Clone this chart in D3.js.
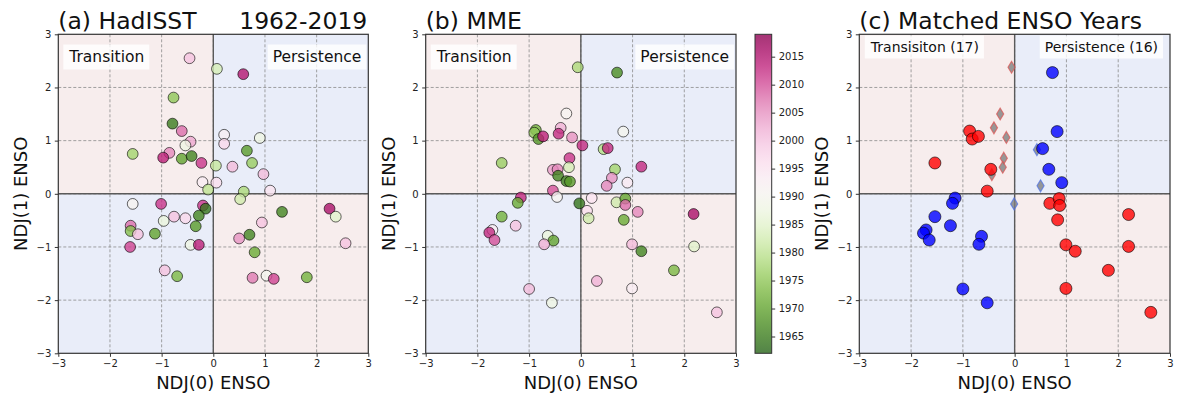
<!DOCTYPE html>
<html>
<head>
<meta charset="utf-8">
<script src="https://cdn.jsdelivr.net/npm/d3@7"></script>
<style>
  body { margin: 0; background: #fff; }
  svg { font-family: "DejaVu Sans", sans-serif; }
</style>
</head>
<body>
<div id="chart"></div>
<script>
// (a) HadISST, one point per year
const hadX = [-0.46, 0.07, 0.58, -0.77, -0.79, -0.61, -0.44, -0.54, -0.85, -0.97, -0.61, -0.42, -1.56, -0.23, 0.05, -0.21, -0.10, 0.06, 0.21, 0.21, 0.90, 0.65, 0.75, 0.37, 0.97, 1.10, 0.59, 0.52, 1.33, 2.25, 2.37, 0.94, 0.50, 0.70, 0.80, 2.56, 0.76, 1.03, 1.17, 1.81, -1.56, -1.01, -0.96, -0.76, -0.54, -0.20, -0.15, -0.28, -0.34, -1.13, -1.60, -1.60, -1.46, -1.61, -0.44, -0.28, -0.94, -0.70];
const hadY = [2.55, 2.35, 2.25, 1.81, 1.32, 1.18, 0.98, 0.91, 0.77, 0.68, 0.66, 0.71, 0.75, 0.58, 0.53, 0.22, 0.08, 0.21, 1.11, 0.94, 1.05, 0.81, 0.58, 0.51, 0.37, 0.06, 0.04, -0.10, -0.34, -0.28, -0.43, -0.54, -0.84, -0.77, -1.10, -0.93, -1.58, -1.54, -1.60, -1.57, -0.19, -0.19, -0.51, -0.43, -0.46, -0.22, -0.28, -0.41, -0.61, -0.75, -0.60, -0.70, -0.76, -1.00, -0.96, -0.96, -1.44, -1.55];
const hadYear = [2000, 1983, 2015, 1975, 1965, 2008, 2003, 1988, 2006, 2014, 1970, 1966, 1977, 2012, 1981, 1993, 1980, 1996, 1992, 1997, 1988, 1969, 1976, 2001, 2001, 1995, 1978, 1982, 1966, 2016, 1985, 2000, 2005, 1966, 1971, 2000, 2007, 1990, 2011, 1972, 1991, 2012, 1987, 2000, 1997, 2012, 1964, 1966, 1969, 1970, 2008, 1974, 2000, 2011, 1988, 2014, 2000, 1973];

// (b) MME
const mmeX = [-0.06, 0.70, -0.28, -0.39, -0.87, -0.90, -0.82, -0.73, -0.43, -0.17, 0.03, 0.82, 0.44, 0.52, -1.53, -0.22, -0.54, -0.45, -0.23, -0.44, -0.28, -0.21, 0.66, 0.60, 0.50, 0.90, 1.17, -0.54, -0.46, 0.21, -0.03, -1.16, -1.22, -1.53, -1.26, -1.71, -1.77, -1.67, -0.64, -0.53, -0.71, -1.00, -0.56, 0.12, 0.15, 0.69, 0.86, 0.86, 1.10, 0.83, 2.18, 0.99, 1.17, 2.19, 1.80, 0.31, 0.99, 2.63];
const mmeY = [2.38, 2.28, 1.51, 1.24, 1.20, 1.15, 1.03, 1.08, 1.13, 1.06, 0.91, 1.17, 0.84, 0.86, 0.58, 0.67, 0.45, 0.46, 0.50, 0.34, 0.24, 0.23, 0.46, 0.30, 0.15, 0.21, 0.51, 0.06, -0.06, -0.08, -0.18, -0.07, -0.17, -0.43, -0.60, -0.68, -0.73, -0.87, -0.79, -0.88, -0.95, -1.79, -2.05, -0.32, -0.46, -0.16, -0.09, -0.21, -0.34, -0.49, -0.38, -0.95, -1.08, -0.99, -1.44, -1.64, -1.78, -2.23];
const mmeYear = [1978, 1967, 1991, 2002, 1972, 1975, 1968, 2014, 2013, 2005, 2013, 1990, 1979, 2013, 1976, 2012, 2004, 2006, 1983, 1966, 1965, 1969, 1977, 2005, 2006, 1994, 2013, 2010, 1991, 1995, 1964, 2013, 1971, 1972, 2000, 1993, 2013, 2010, 1987, 1970, 2002, 2001, 1988, 1996, 1982, 1982, 1970, 2008, 2006, 1971, 2016, 2001, 1966, 1985, 1973, 2002, 1993, 2000];

// (c) matched years
const transX = [-1.54, -0.87, -0.82, -0.70, -0.46, -0.53, 0.68, 0.86, 0.87, 0.83, 2.20, 0.99, 1.17, 2.20, 1.81, 0.99, 2.63];
const transY = [0.58, 1.18, 1.03, 1.08, 0.46, 0.05, -0.18, -0.09, -0.22, -0.49, -0.39, -0.96, -1.08, -0.99, -1.44, -1.78, -2.23];
const persX = [0.73, 0.82, 0.54, 0.66, 0.91, -1.15, -1.20, -1.54, -1.24, -1.71, -1.76, -1.65, -0.64, -0.69, -1.00, -0.53];
const persY = [2.28, 1.17, 0.85, 0.46, 0.21, -0.08, -0.18, -0.43, -0.60, -0.68, -0.74, -0.87, -0.80, -0.95, -1.79, -2.05];
const otherX = [-0.06, -0.28, -0.40, -0.16, -0.21, -0.23, -0.44, 0.43, 0.50, -0.01];
const otherY = [2.38, 1.50, 1.24, 1.06, 0.67, 0.50, 0.36, 0.83, 0.15, -0.19];
const otherType = ["T", "T", "T", "T", "T", "T", "T", "P", "P", "P"];

const axTicks = [-3, -2, -1, 0, 1, 2, 3];
const yearTicks = [1965, 1970, 1975, 1980, 1985, 1990, 1995, 2000, 2005, 2010, 2015];
const yearRange = [1962, 2019];

const W = 1177, H = 399;
const plotTop = 34.3, plotBottom = 353.3;

const svg = d3.select('#chart').append('svg')
    .attr('width', W)
    .attr('height', H);

const pink = '#f7eded';
const blue = '#e9edf9';

const yearColor = d3.scaleSequential(t => d3.interpolatePiYG(1 - t)).domain(yearRange);

const fmt = d => d < 0 ? '\u2212' + Math.abs(d) : String(d);

// axes frame, background, grid, ticks; returns scales
function panel(left, right, title, titleRight){
  const x = d3.scaleLinear().domain([-3, 3]).range([left, right]);
  const y = d3.scaleLinear().domain([-3, 3]).range([plotBottom, plotTop]);
  const g = svg.append('g');

  // quadrants
  const quads = [
    [-3, 0, 0, 3, pink], [0, 3, 0, 3, blue],
    [-3, 0, -3, 0, blue], [0, 3, -3, 0, pink]
  ];
  g.selectAll('rect.q').data(quads).enter().append('rect')
      .attr('x', d => x(d[0])).attr('width', d => x(d[1]) - x(d[0]))
      .attr('y', d => y(d[3])).attr('height', d => y(d[2]) - y(d[3]))
      .attr('fill', d => d[4]);

  // grid
  const inner = axTicks.slice(1, -1);
  g.selectAll('line.gx').data(inner).enter().append('line')
      .attr('x1', d => x(d)).attr('x2', d => x(d))
      .attr('y1', plotTop).attr('y2', plotBottom)
      .attr('stroke', '#8a8a8a').attr('stroke-width', 0.8)
      .attr('stroke-dasharray', '3,2');
  g.selectAll('line.gy').data(inner).enter().append('line')
      .attr('y1', d => y(d)).attr('y2', d => y(d))
      .attr('x1', left).attr('x2', right)
      .attr('stroke', '#8a8a8a').attr('stroke-width', 0.8)
      .attr('stroke-dasharray', '3,2');

  // zero lines
  g.append('line').attr('x1', x(0)).attr('x2', x(0)).attr('y1', plotTop).attr('y2', plotBottom)
      .attr('stroke', '#5a5a5a').attr('stroke-width', 1.4);
  g.append('line').attr('y1', y(0)).attr('y2', y(0)).attr('x1', left).attr('x2', right)
      .attr('stroke', '#5a5a5a').attr('stroke-width', 1.4);

  const marks = svg.append('g');
  const over = svg.append('g');

  // axes
  const xa = over.append('g').attr('transform', `translate(0,${plotBottom})`)
      .call(d3.axisBottom(x).tickValues(axTicks).tickFormat(fmt).tickSize(3.5).tickPadding(3.5));
  const ya = over.append('g').attr('transform', `translate(${left},0)`)
      .call(d3.axisLeft(y).tickValues(axTicks).tickFormat(fmt).tickSize(3.5).tickPadding(3.5));
  [xa, ya].forEach(a => {
    a.select('.domain').remove();
    a.selectAll('text').attr('font-size', 10).attr('fill', '#222')
        .attr('font-family', '"DejaVu Sans", sans-serif');
    a.selectAll('line').attr('stroke', '#333');
  });

  over.append('rect').attr('x', left).attr('y', plotTop)
      .attr('width', right - left).attr('height', plotBottom - plotTop)
      .attr('fill', 'none').attr('stroke', '#333').attr('stroke-width', 1.2);

  over.append('text').attr('x', (left + right) / 2).attr('y', 389)
      .attr('text-anchor', 'middle').attr('font-size', 18).attr('fill', '#111')
      .text('NDJ(0) ENSO');
  over.append('text')
      .attr('transform', `translate(${left - 31},${(plotTop + plotBottom) / 2}) rotate(-90)`)
      .attr('text-anchor', 'middle').attr('font-size', 18).attr('fill', '#111')
      .text('NDJ(1) ENSO');

  over.append('text').attr('x', left).attr('y', 29)
      .attr('font-size', 23.5).attr('fill', '#111').text(title);
  if (titleRight) {
    over.append('text').attr('x', right - 1).attr('y', 29).attr('text-anchor', 'end')
        .attr('font-size', 23.5).attr('fill', '#111').text(titleRight);
  }

  return {x, y, marks, over, left, right};
}

function label(p, txt, side, size, base, inset, pad){
  const t = p.over.append('text')
      .attr('x', side === 'left' ? p.left + inset : p.right - inset)
      .attr('y', base)
      .attr('text-anchor', side === 'left' ? 'start' : 'end')
      .attr('font-size', size).attr('fill', '#111')
      .text(txt);
  const bb = t.node().getBBox();
  p.over.insert('rect', () => t.node())
      .attr('x', bb.x - pad).attr('y', bb.y - pad * 0.7)
      .attr('width', bb.width + 2 * pad).attr('height', bb.height + pad * 1.4)
      .attr('fill', '#fff').attr('fill-opacity', 0.8);
}

function yearDots(p, xs, ys, years){
  p.marks.selectAll('circle').data(xs).enter().append('circle')
      .attr('cx', d => p.x(d))
      .attr('cy', (d, i) => p.y(ys[i]))
      .attr('r', 5.4)
      .attr('fill', (d, i) => yearColor(years[i]))
      .attr('fill-opacity', 0.8)
      .attr('stroke', '#000').attr('stroke-opacity', 0.6).attr('stroke-width', 1);
}

// (a)
const pa = panel(58.3, 368.3, '(a) HadISST', '1962-2019');
yearDots(pa, hadX, hadY, hadYear);
label(pa, 'Transition', 'left', 15.5, 62, 11, 5);
label(pa, 'Persistence', 'right', 15.5, 62, 7, 5);

// (b)
const pb = panel(425.7, 736, '(b) MME');
yearDots(pb, mmeX, mmeY, mmeYear);
label(pb, 'Transition', 'left', 15.5, 62, 11, 5);
label(pb, 'Persistence', 'right', 15.5, 62, 7, 5);

// colorbar
const cbL = 755, cbR = 771.7;
const cy = d3.scaleLinear().domain(yearRange).range([plotBottom, plotTop]);
const grad = svg.append('defs').append('linearGradient')
    .attr('id', 'cbgrad').attr('x1', 0).attr('x2', 0).attr('y1', 1).attr('y2', 0);
d3.range(0, 1.0001, 0.05).forEach(t => {
  grad.append('stop').attr('offset', t)
      .attr('stop-color', yearColor(yearRange[0] + t * (yearRange[1] - yearRange[0])));
});
svg.append('rect').attr('x', cbL).attr('y', plotTop).attr('width', cbR - cbL).attr('height', plotBottom - plotTop)
    .attr('fill', 'url(#cbgrad)').attr('fill-opacity', 0.8);
svg.append('rect').attr('x', cbL).attr('y', plotTop).attr('width', cbR - cbL).attr('height', plotBottom - plotTop)
    .attr('fill', 'none').attr('stroke', '#333').attr('stroke-width', 1);
const cba = svg.append('g').attr('transform', `translate(${cbR},0)`)
    .call(d3.axisRight(cy).tickValues(yearTicks).tickFormat(d3.format('d')).tickSize(3.5).tickPadding(3.5));
cba.select('.domain').remove();
cba.selectAll('text').attr('font-size', 10).attr('fill', '#222').attr('font-family', '"DejaVu Sans", sans-serif');
cba.selectAll('line').attr('stroke', '#333');

// (c)
const pc = panel(859.3, 1170, '(c) Matched ENSO Years');
const diamond = 'M0,-6L3.6,0L0,6L-3.6,0Z';
pc.marks.selectAll('path.other').data(otherX).enter().append('path')
    .attr('class', 'other')
    .attr('d', diamond)
    .attr('transform', (d, i) => `translate(${pc.x(d)},${pc.y(otherY[i])})`)
    .attr('fill', '#7f7f7f').attr('fill-opacity', 0.8)
    .attr('stroke', (d, i) => otherType[i] === 'T' ? '#e0504f' : '#4a6fe8')
    .attr('stroke-opacity', 0.7).attr('stroke-width', 1.1);
pc.marks.selectAll('circle.trans').data(transX).enter().append('circle')
    .attr('class', 'trans')
    .attr('cx', d => pc.x(d)).attr('cy', (d, i) => pc.y(transY[i])).attr('r', 6)
    .attr('fill', 'red').attr('fill-opacity', 0.8)
    .attr('stroke', '#000').attr('stroke-opacity', 0.6).attr('stroke-width', 1);
pc.marks.selectAll('circle.pers').data(persX).enter().append('circle')
    .attr('class', 'pers')
    .attr('cx', d => pc.x(d)).attr('cy', (d, i) => pc.y(persY[i])).attr('r', 6)
    .attr('fill', 'blue').attr('fill-opacity', 0.8)
    .attr('stroke', '#000').attr('stroke-opacity', 0.6).attr('stroke-width', 1);
label(pc, 'Transisiton (' + transX.length + ')', 'left', 14, 52, 11.5, 5);
label(pc, 'Persistence (' + persX.length + ')', 'right', 14, 52, 12, 5);
</script>
</body>
</html>
